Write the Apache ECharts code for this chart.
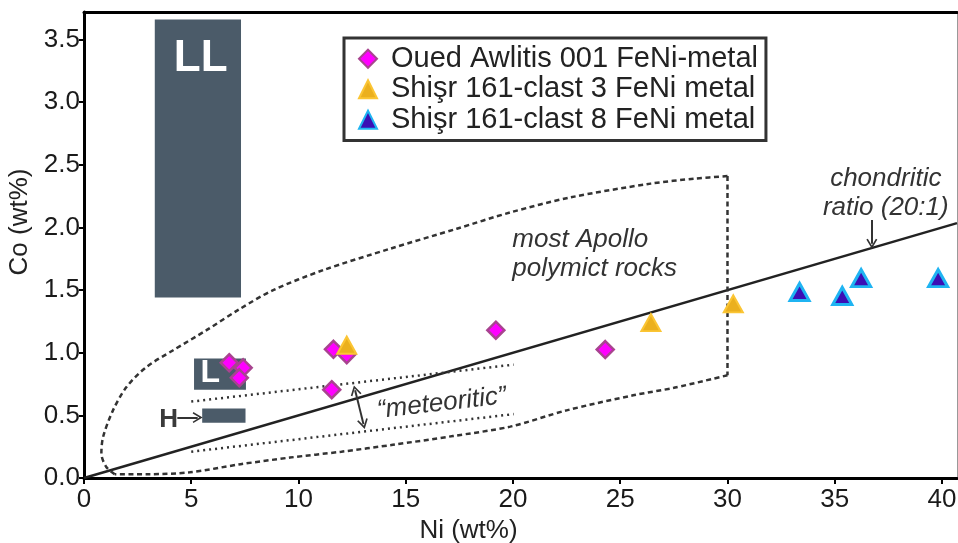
<!DOCTYPE html>
<html>
<head>
<meta charset="utf-8">
<title>Co vs Ni in FeNi metal</title>
<script src="https://cdn.jsdelivr.net/npm/echarts@6/dist/echarts.min.js"></script>
<style>
  html, body { margin: 0; padding: 0; background: #fff; }
  #chart { width: 958px; height: 543px; }
</style>
</head>
<body>
<div id="chart"></div>
<script>
// axis ticks
var xTicks = [0, 5, 10, 15, 20, 25, 30, 35, 40];
var yTicks = [0, 0.5, 1.0, 1.5, 2.0, 2.5, 3.0, 3.5];

// measured FeNi metal compositions [Ni wt%, Co wt%]
var ouedAwlitis = [[6.77, 0.92], [7.42, 0.88], [7.24, 0.80], [11.55, 0.705], [11.63, 1.027],
                   [12.25, 0.985], [19.2, 1.18], [24.3, 1.025]];
var shisrClast3 = [[12.25, 1.06], [26.43, 1.24], [30.27, 1.39]];
var shisrClast8 = [[33.36, 1.485], [35.35, 1.453], [36.23, 1.596], [39.82, 1.596]];

// chondrite metal fields [Ni min, Ni max, Co min, Co max]
var fieldLL = [3.3, 7.32, 1.44, 3.66];
var fieldL = [5.13, 7.55, 0.705, 0.953];
var fieldH = [5.51, 7.53, 0.442, 0.554];

// chondritic ratio line (Ni:Co = 20:1)
var chondritic = [[0, 0], [40.7, 2.035]];

// outline of most Apollo polymict rocks (upper curve, right edge, lower curve)
var apolloUpper = [[1.43, 0.03], [1.04, 0.088], [0.81, 0.195], [0.89, 0.327], [1.35, 0.54],
  [1.98, 0.726], [2.91, 0.886], [4.16, 1.02], [5.71, 1.18], [7.27, 1.35], [8.82, 1.50],
  [11.16, 1.66], [14.27, 1.83], [17.38, 1.99], [19.87, 2.12], [22.68, 2.24], [26.42, 2.35],
  [28.5, 2.39], [30.0, 2.41]];
var apolloEdge = [[30.0, 2.41], [30.0, 0.82]];
var apolloLower = [[30.0, 0.82], [27.5, 0.72], [25.6, 0.66], [22.5, 0.54], [19.87, 0.41],
  [17.2, 0.335], [14.4, 0.265], [12.0, 0.21], [9.6, 0.163], [7.3, 0.11], [4.93, 0.045],
  [3.0, 0.03], [1.43, 0.03]];

// "meteoritic" band
var meteoriticUpper = [[5.0, 0.61], [20.03, 0.905]];
var meteoriticLower = [[5.0, 0.21], [20.03, 0.51]];

var FONT = '"Liberation Sans", Arial, sans-serif';
var INK = '#333';
var FIELD = '#4b5b69';
var CHEVRON = 'path://M0,12 L6,0 L12,12 L10.4,12.9 L6,4.2 L1.6,12.9 Z';

function rect(f, name) {
  return [{ name: name, coord: [f[0], f[3]] }, { coord: [f[1], f[2]] }];
}

function note(text, x, y, style) {
  return { name: text, value: [x, y], label: Object.assign({
    show: true, formatter: text, position: 'inside', fontFamily: FONT,
    fontSize: 26, fontStyle: 'italic', color: INK, lineHeight: 29
  }, style || {}) };
}

function outline(data, type, smooth) {
  return {
    type: 'line', z: 2, silent: true, data: data, showSymbol: false, smooth: smooth,
    lineStyle: { color: INK, width: 2.5, type: type }
  };
}

var chart = echarts.init(document.getElementById('chart'));

var option = {
  animation: false,
  grid: { left: 84, right: 1, top: 12, bottom: 65, outerBoundsMode: 'none' },
  legend: {
    data: ['Oued Awlitis 001 FeNi-metal', 'Shişr 161-clast 3 FeNi metal', 'Shişr 161-clast 8 FeNi metal'],
    orient: 'vertical',
    left: 344,
    top: 38,
    padding: [6, 8, 6, 14],
    itemGap: 1,
    itemWidth: 18,
    itemHeight: 18,
    borderColor: '#333',
    borderWidth: 3,
    backgroundColor: '#fff',
    selectedMode: false,
    textStyle: { fontFamily: FONT, fontSize: 29, color: '#222', lineHeight: 29.5, padding: [0, 0, 0, 9] }
  },
  xAxis: [{
    type: 'value', min: 0, max: 40.7,
    name: 'Ni (wt%)', nameLocation: 'middle', nameGap: 37,
    nameTextStyle: { fontFamily: FONT, fontSize: 26, color: '#222', padding: [0, 104, 0, 0] },
    axisLine: { onZero: false, lineStyle: { color: '#000', width: 3 } },
    axisTick: { customValues: xTicks, length: 6, lineStyle: { color: '#000', width: 2 } },
    axisLabel: { customValues: xTicks, fontFamily: FONT, fontSize: 26, color: '#1a1a1a', margin: 9 },
    splitLine: { show: false }
  }, {
    type: 'value', min: 0, max: 40.7, position: 'top',
    axisLine: { onZero: false, lineStyle: { color: '#000', width: 3 } },
    axisTick: { show: false }, axisLabel: { show: false }, splitLine: { show: false }
  }],
  yAxis: [{
    type: 'value', min: 0, max: 3.72,
    name: 'Co (wt%)', nameLocation: 'middle', nameGap: 48,
    nameTextStyle: { fontFamily: FONT, fontSize: 26, color: '#222', padding: [0, 0, 0, 46] },
    axisLine: { onZero: false, lineStyle: { color: '#000', width: 3 } },
    axisTick: { customValues: yTicks, length: 5, lineStyle: { color: '#000', width: 2 } },
    axisLabel: {
      customValues: yTicks, fontFamily: FONT, fontSize: 26, color: '#1a1a1a', margin: 4,
      formatter: function (v) { return v.toFixed(1); }
    },
    splitLine: { show: false }
  }, {
    type: 'value', min: 0, max: 3.72, position: 'right',
    axisLine: { onZero: false, lineStyle: { color: '#999', width: 1 } },
    axisTick: { show: false }, axisLabel: { show: false }, splitLine: { show: false }
  }],
  series: [
    {
      // chondrite fields + chondritic ratio line
      name: 'chondritic', type: 'line', z: 2, silent: true,
      data: chondritic, showSymbol: false,
      lineStyle: { color: '#222', width: 2.5 },
      markArea: {
        silent: true,
        itemStyle: { color: FIELD, opacity: 1 },
        label: { show: false },
        data: [rect(fieldLL, 'LL'), rect(fieldL, 'L'), rect(fieldH, 'H')]
      },
      markLine: {
        silent: true,
        symbol: ['none', CHEVRON],
        symbolSize: [11, 10],
        label: { show: false },
        lineStyle: { color: INK, width: 2, type: 'solid' },
        data: [
          [{ coord: [36.73, 2.06] }, { coord: [36.73, 1.87] }],
          [{ coord: [4.35, 0.482] }, { coord: [5.3, 0.482] }],
          [{ coord: [12.64, 0.70], symbol: CHEVRON }, { coord: [13.03, 0.43] }]
        ]
      }
    },
    outline(apolloUpper, [5, 3.5], 0.3),
    outline(apolloEdge, [5, 3.5], false),
    outline(apolloLower, [5, 3.5], 0.3),
    outline(meteoriticUpper, [2, 4], false),
    outline(meteoriticLower, [2, 4], false),
    {
      name: 'notes', type: 'scatter', z: 3, silent: true, symbolSize: 0,
      itemStyle: { opacity: 1 },
      data: [
        note('LL', 5.44, 3.343, { fontStyle: 'normal', fontWeight: 'bold', fontSize: 44, color: '#fff' }),
        note('L', 5.89, 0.833, { fontStyle: 'normal', fontWeight: 'bold', fontSize: 32, color: '#fff' }),
        note('H', 3.95, 0.468, { fontStyle: 'normal', fontWeight: 'bold', fontSize: 26, color: '#3a3a3a' }),
        note('most Apollo\npolymict rocks', 19.97, 1.79, { position: 'right', distance: 0, align: 'left' }),
        note('chondritic\nratio (20:1)', 37.38, 2.27, { align: 'center' }),
        note('“meteoritic”', 16.68, 0.596, { rotate: 6.5 })
      ]
    },
    {
      name: 'Oued Awlitis 001 FeNi-metal', type: 'scatter', z: 4,
      symbol: 'diamond', symbolSize: [17, 17],
      itemStyle: { color: '#ff00ff', borderColor: '#a8448f', borderWidth: 2.5, opacity: 1 },
      data: ouedAwlitis
    },
    {
      name: 'Shişr 161-clast 3 FeNi metal', type: 'scatter', z: 5,
      symbol: 'triangle', symbolSize: [19, 17],
      itemStyle: { color: '#ebb01e', borderColor: '#fbc534', borderWidth: 2, opacity: 1 },
      data: shisrClast3
    },
    {
      name: 'Shişr 161-clast 8 FeNi metal', type: 'scatter', z: 5,
      symbol: 'triangle', symbolSize: [19, 17],
      itemStyle: { color: '#3b0fb5', borderColor: '#1fb4f2', borderWidth: 3, opacity: 1 },
      data: shisrClast8
    }
  ]
};

chart.setOption(option);
</script>
</body>
</html>
